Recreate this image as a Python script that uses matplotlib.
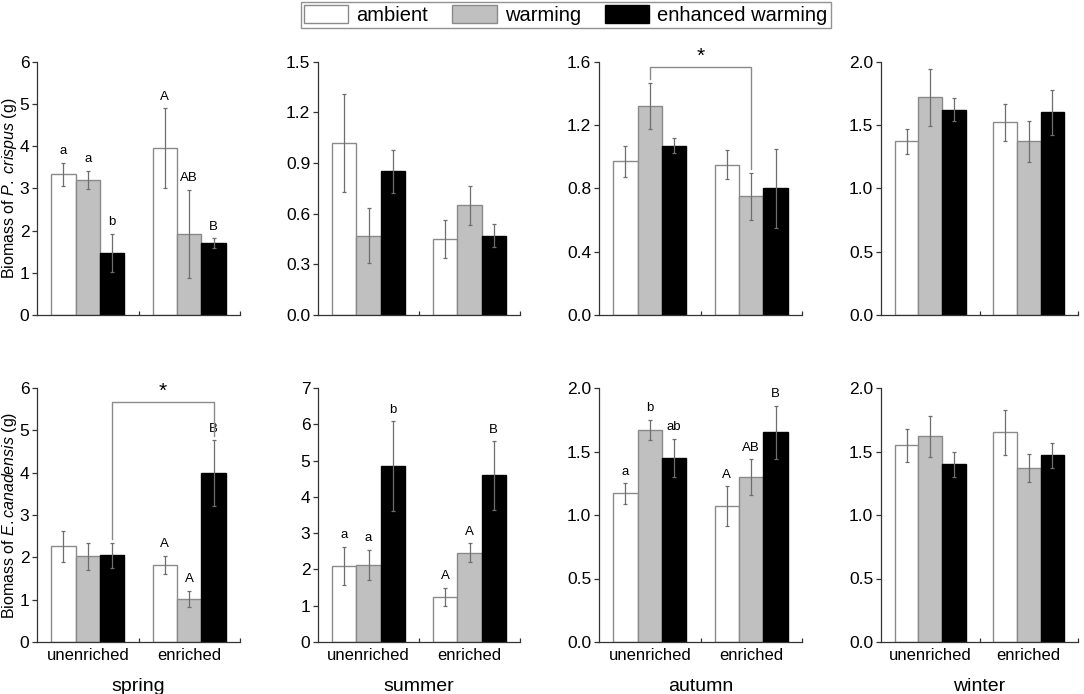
import matplotlib
matplotlib.use("Agg")
import matplotlib.pyplot as plt
from matplotlib.patches import Patch
from matplotlib.ticker import MultipleLocator, FormatStrFormatter

plt.rcParams["font.family"] = "Liberation Sans"
plt.rcParams["mathtext.fontset"] = "custom"
plt.rcParams["mathtext.rm"] = "Liberation Sans"
plt.rcParams["mathtext.it"] = "Liberation Sans:italic"

seasons = ["spring", "summer", "autumn", "winter"]
groups = ["unenriched", "enriched"]
treatments = ["ambient", "warming", "enhanced warming"]

# per season: [unenriched (ambient, warming, enhanced), enriched (ambient, warming, enhanced)]
pc_mean = [
    [[3.33, 3.20, 1.47], [3.95, 1.92, 1.70]],
    [[1.02, 0.47, 0.85], [0.45, 0.65, 0.47]],
    [[0.97, 1.32, 1.07], [0.95, 0.75, 0.80]],
    [[1.37, 1.72, 1.62], [1.52, 1.37, 1.60]],
]
pc_err = [
    [[0.28, 0.21, 0.45], [0.95, 1.05, 0.12]],
    [[0.29, 0.165, 0.13], [0.11, 0.115, 0.07]],
    [[0.10, 0.145, 0.045], [0.09, 0.15, 0.25]],
    [[0.10, 0.225, 0.09], [0.145, 0.165, 0.175]],
]
ec_mean = [
    [[2.26, 2.02, 2.05], [1.82, 1.02, 3.99]],
    [[2.10, 2.13, 4.84], [1.24, 2.46, 4.59]],
    [[1.17, 1.67, 1.45], [1.07, 1.30, 1.65]],
    [[1.55, 1.62, 1.40], [1.65, 1.37, 1.47]],
]
ec_err = [
    [[0.36, 0.31, 0.30], [0.22, 0.19, 0.78]],
    [[0.53, 0.41, 1.24], [0.25, 0.26, 0.94]],
    [[0.08, 0.08, 0.15], [0.155, 0.14, 0.21]],
    [[0.13, 0.16, 0.10], [0.18, 0.11, 0.10]],
]

pc_letters = [
    [["a", "a", "b"], ["A", "AB", "B"]],
    None, None, None,
]
ec_letters = [
    [["", "", ""], ["A", "A", "B"]],
    [["a", "a", "b"], ["A", "A", "B"]],
    [["a", "b", "ab"], ["A", "AB", "B"]],
    None,
]

pc_ymax = [6, 1.5, 1.6, 2.0]
pc_step = [1, 0.3, 0.4, 0.5]
ec_ymax = [6, 7, 2.0, 2.0]
ec_step = [1, 1, 0.5, 0.5]

# significance brackets: (row, season, treatment index, bracket height)
brackets = [
    (0, 2, 1, 1.565),
    (1, 0, 2, 5.67),
]

face = ["white", "#c0c0c0", "black"]
edge = ["#8a8a8a", "#8a8a8a", "black"]
width = 0.24

fig = plt.figure(figsize=(10.84, 6.94), dpi=100)
lefts = [37, 318, 599, 881]
widths = [203, 202, 203, 197]
rows_px = [(61.7, 315), (388, 642)]
axes = [[None] * 4 for _ in range(2)]
for r, (top, bot) in enumerate(rows_px):
    for c in range(4):
        axes[r][c] = fig.add_axes([lefts[c] / 1084, 1 - bot / 694,
                                   widths[c] / 1084, (bot - top) / 694])

for r, (means, errs, letters, ymax, step) in enumerate([
        (pc_mean, pc_err, pc_letters, pc_ymax, pc_step),
        (ec_mean, ec_err, ec_letters, ec_ymax, ec_step)]):
    for c in range(4):
        ax = axes[r][c]
        for t in range(3):
            xs = [g + (t - 1) * width for g in range(2)]
            ys = [means[c][g][t] for g in range(2)]
            es = [errs[c][g][t] for g in range(2)]
            ax.bar(xs, ys, width=width, color=face[t], edgecolor=edge[t],
                   linewidth=1.0, zorder=2)
            ax.errorbar(xs, ys, yerr=es, fmt="none", ecolor="#6e6e6e",
                        elinewidth=0.9, capsize=1.5, capthick=0.9, zorder=3)
            if letters[c] is not None:
                for g in range(2):
                    lab = letters[c][g][t]
                    if lab:
                        ax.annotate(lab, (xs[g], ys[g] + es[g]),
                                    xytext=(0, 4), textcoords="offset points",
                                    ha="center", va="bottom", fontsize=9.5)
        ax.set_xlim(-0.5, 1.5)
        ax.set_ylim(0, ymax[c])
        ax.yaxis.set_major_locator(MultipleLocator(step[c]))
        ax.yaxis.set_major_formatter(
            FormatStrFormatter("%d" if step[c] >= 1 else "%.1f"))
        ax.set_xticks([0, 1])
        ax.set_xticks([0.5, 1.5], minor=True)
        ax.tick_params(axis="x", which="both", direction="in", length=3,
                       width=0.9, color="#333333")
        ax.tick_params(axis="y", direction="out", length=3.5, width=0.9,
                       labelsize=12.5, pad=2, color="#333333")
        if r == 1:
            ax.set_xticklabels(groups, fontsize=12)
            ax.tick_params(axis="x", pad=4)
            ax.set_xlabel(seasons[c], fontsize=14, labelpad=11)
        else:
            ax.set_xticklabels([])
        for s in ["top", "right"]:
            ax.spines[s].set_visible(False)
        for s in ["left", "bottom"]:
            ax.spines[s].set_color("#333333")
            ax.spines[s].set_linewidth(0.9)

axes[0][0].set_ylabel(r"Biomass of $\mathit{P.\ crispus}$ (g)", fontsize=11.5)
axes[1][0].set_ylabel(r"Biomass of $\mathit{E.canadensis}$ (g)", fontsize=11.5)
for r in range(2):
    axes[r][0].yaxis.set_label_coords(-0.088, 0.5)

all_means = [pc_mean, ec_mean]
all_errs = [pc_err, ec_err]
for r, c, t, h in brackets:
    ax = axes[r][c]
    xs = [g + (t - 1) * width for g in range(2)]
    ends = [all_means[r][c][g][t] + all_errs[r][c][g][t] + 0.015 * ax.get_ylim()[1]
            for g in range(2)]
    ax.plot([xs[0], xs[0], xs[1], xs[1]], [ends[0], h, h, ends[1]],
            color="#8a8a8a", lw=1.0, clip_on=False, zorder=4)
    ax.annotate("*", ((xs[0] + xs[1]) / 2, h), xytext=(0, 1),
                textcoords="offset points", ha="center", va="bottom",
                fontsize=15, annotation_clip=False)

handles = [Patch(facecolor=face[t], edgecolor=edge[t], linewidth=1.0)
           for t in range(3)]
fig.legend(handles, treatments, loc="upper center", bbox_to_anchor=(0.522, 1.0),
           ncol=3, fontsize=14.5, frameon=True, fancybox=False,
           edgecolor="#777777", handlelength=2.2, handleheight=1.0,
           handletextpad=0.4, columnspacing=1.2, borderpad=0.15,
           borderaxespad=0.1)

fig.savefig("out.png", dpi=100)
